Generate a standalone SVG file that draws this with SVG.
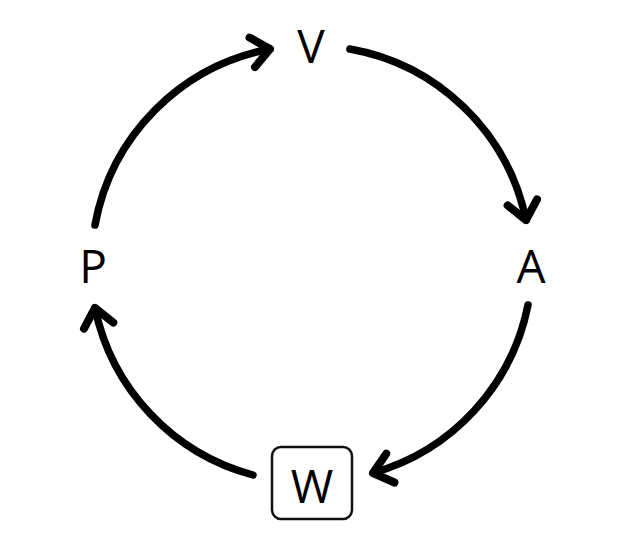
<svg xmlns="http://www.w3.org/2000/svg" width="640" height="547" viewBox="0 0 640 547">
<style>
.lbl{font-family:"Open Sans","Liberation Sans",sans-serif;font-size:46px;fill:#000;text-anchor:middle}
.arc{fill:none;stroke:#000;stroke-width:7.5;stroke-linecap:round}
</style>
<defs>
<marker id="ah" markerUnits="userSpaceOnUse" markerWidth="44" markerHeight="44" viewBox="-32 -22 44 44" refX="0" refY="0" orient="auto">
<path d="M-18,-15 L0,0 L-18,15" fill="none" stroke="#000" stroke-width="8" stroke-linecap="round" stroke-linejoin="round"/>
</marker>
</defs>
<rect width="640" height="547" fill="#fff"/>
<g id="connectors">
<path class="arc" d="M95,225 A219,219 0 0 1 270,49" marker-end="url(#ah)"/>
<path class="arc" d="M350,49 A219,219 0 0 1 526,220" marker-end="url(#ah)"/>
<path class="arc" d="M528,305 A219,219 0 0 1 373,473" marker-end="url(#ah)"/>
<path class="arc" d="M253,475 A219,219 0 0 1 95,308" marker-end="url(#ah)"/>
</g>
<g id="V"><text class="lbl" x="311" y="63">V</text></g>
<g id="A"><text class="lbl" x="531" y="283">A</text></g>
<g id="P"><text class="lbl" x="93" y="283">P</text></g>
<g id="W"><rect x="272" y="447" width="80" height="72" rx="9" fill="#fff" stroke="#111" stroke-width="2.5"/><text class="lbl" x="312" y="503">W</text></g>
</svg>
